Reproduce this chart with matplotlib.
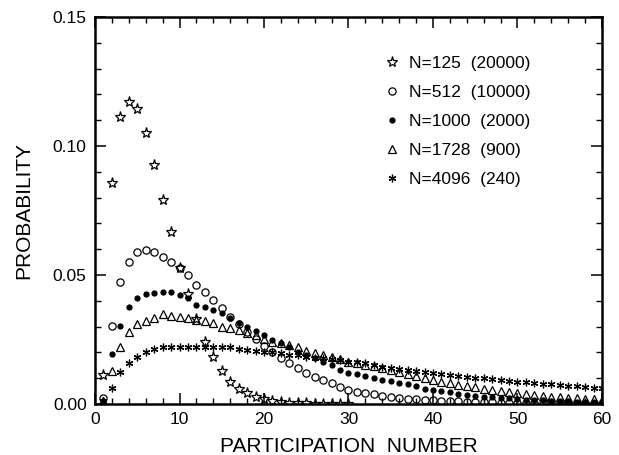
import matplotlib
matplotlib.use("Agg")
import matplotlib.pyplot as plt
from matplotlib.ticker import MultipleLocator, FormatStrFormatter

plt.rcParams["font.family"] = ["Liberation Sans", "DejaVu Sans"]

# participation number distributions (n = 1, 2, 3, ...)
p_125 = [0.0112, 0.0858, 0.1111, 0.1172, 0.1143, 0.1049, 0.0928, 0.0789, 0.0665, 0.0526,
         0.0426, 0.0330, 0.0240, 0.0183, 0.0127, 0.0087, 0.0057, 0.0041, 0.0026, 0.0018,
         0.0012, 0.0008, 0.0005, 0.0003, 0.0002, 0.0001, 0.0001, 0.0, 0.0, 0.0]

p_512 = [0.0025, 0.0304, 0.0474, 0.0552, 0.0588, 0.0597, 0.0590, 0.0571, 0.0549, 0.0526,
         0.0500, 0.0461, 0.0435, 0.0403, 0.0371, 0.0338, 0.0310, 0.0280, 0.0251, 0.0226,
         0.0203, 0.0177, 0.0158, 0.0138, 0.0119, 0.0106, 0.0093, 0.0080, 0.0067, 0.0056,
         0.0048, 0.0042, 0.0037, 0.0032, 0.0028, 0.0024, 0.0020, 0.0018, 0.0016, 0.0014,
         0.0012, 0.0011, 0.0010, 0.0009, 0.0008, 0.0007, 0.0006, 0.0005, 0.0004, 0.0004,
         0.0003, 0.0003, 0.0002, 0.0002, 0.0002, 0.0001, 0.0001, 0.0001, 0.0001, 0.0001]

p_1000 = [0.0010, 0.0193, 0.0304, 0.0377, 0.0412, 0.0425, 0.0431, 0.0434, 0.0433, 0.0422,
          0.0410, 0.0384, 0.0375, 0.0364, 0.0352, 0.0335, 0.0315, 0.0297, 0.0283, 0.0267,
          0.0248, 0.0235, 0.0222, 0.0203, 0.0190, 0.0177, 0.0164, 0.0150, 0.0130, 0.0122,
          0.0116, 0.0108, 0.0100, 0.0094, 0.0088, 0.0083, 0.0077, 0.0068, 0.0060, 0.0055,
          0.0050, 0.0045, 0.0040, 0.0036, 0.0032, 0.0029, 0.0027, 0.0024, 0.0022, 0.0020,
          0.0017, 0.0015, 0.0014, 0.0012, 0.0011, 0.0010, 0.0009, 0.0008, 0.0007, 0.0006]

p_1728 = [0.0010, 0.0127, 0.0220, 0.0278, 0.0309, 0.0323, 0.0332, 0.0349, 0.0341, 0.0338,
          0.0335, 0.0326, 0.0322, 0.0315, 0.0300, 0.0293, 0.0287, 0.0276, 0.0267, 0.0251,
          0.0242, 0.0235, 0.0229, 0.0222, 0.0207, 0.0199, 0.0190, 0.0181, 0.0173, 0.0164,
          0.0158, 0.0152, 0.0146, 0.0139, 0.0132, 0.0125, 0.0117, 0.0110, 0.0102, 0.0094,
          0.0087, 0.0080, 0.0074, 0.0068, 0.0064, 0.0058, 0.0053, 0.0049, 0.0045, 0.0041,
          0.0038, 0.0035, 0.0032, 0.0029, 0.0027, 0.0025, 0.0022, 0.0020, 0.0018, 0.0017]

p_4096 = [0.0010, 0.0063, 0.0123, 0.0158, 0.0183, 0.0203, 0.0212, 0.0220, 0.0222, 0.0222,
          0.0222, 0.0222, 0.0222, 0.0220, 0.0219, 0.0219, 0.0212, 0.0210, 0.0207, 0.0203,
          0.0200, 0.0196, 0.0190, 0.0190, 0.0183, 0.0177, 0.0177, 0.0173, 0.0170, 0.0164,
          0.0161, 0.0158, 0.0152, 0.0145, 0.0140, 0.0136, 0.0132, 0.0128, 0.0124, 0.0120,
          0.0117, 0.0113, 0.0110, 0.0106, 0.0102, 0.0099, 0.0096, 0.0093, 0.0090, 0.0087,
          0.0085, 0.0082, 0.0079, 0.0077, 0.0074, 0.0071, 0.0068, 0.0066, 0.0063, 0.0061]

labels = ["N=125  (20000)", "N=512  (10000)", "N=1000  (2000)",
          "N=1728  (900)", "N=4096  (240)"]

series = [p_125, p_512, p_1000, p_1728, p_4096]
styles = [  # marker, size, filled
    ("*", 8, False),
    ("o", 5.2, False),
    ("o", 3.6, True),
    ("^", 5.4, False),
    ((6, 2, 0), 5.5, False),
]

fig = plt.figure(figsize=(6.19, 4.55), dpi=100)
ax = fig.add_axes([95 / 619, 51 / 455, 507 / 619, 387 / 455])

for vals, lab, (mk, ms, filled) in zip(series, labels, styles):
    n = list(range(1, len(vals) + 1))
    ax.plot(n, vals, linestyle="none", marker=mk, markersize=ms,
            markerfacecolor="black" if filled else "none",
            markeredgecolor="black", markeredgewidth=0.9, label=lab)

ax.set_xlim(0, 60)
ax.set_ylim(0, 0.15)
ax.xaxis.set_major_locator(MultipleLocator(10))
ax.xaxis.set_minor_locator(MultipleLocator(2))
ax.yaxis.set_major_locator(MultipleLocator(0.05))
ax.yaxis.set_minor_locator(MultipleLocator(0.01))
ax.yaxis.set_major_formatter(FormatStrFormatter("%.2f"))

ax.tick_params(which="both", direction="in", top=True, right=True)
ax.tick_params(which="major", length=8, width=1.1, labelsize=12.5, pad=6)
ax.tick_params(which="minor", length=4, width=1.0)
for s in ax.spines.values():
    s.set_linewidth(1.8)

ax.set_xlabel("PARTICIPATION  NUMBER", fontsize=15)
ax.set_ylabel("PROBABILITY", fontsize=15)
ax.xaxis.set_label_coords(0.5, -0.085)
ax.yaxis.set_label_coords(-0.122, 0.5)

ax.legend(loc="upper left", bbox_to_anchor=(0.568, 0.9), frameon=False,
          fontsize=12.5, handlelength=1.0, handletextpad=0.5, labelspacing=0.8,
          borderpad=0, borderaxespad=0, numpoints=1)

fig.savefig("out.png", dpi=100)
